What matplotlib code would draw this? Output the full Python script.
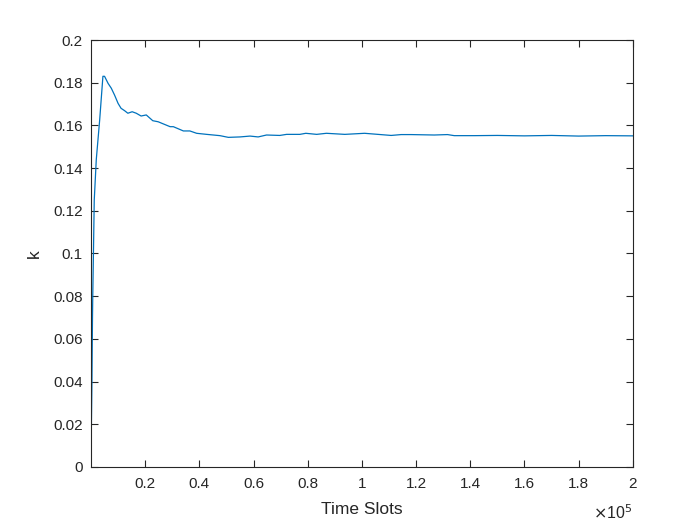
import numpy as np
import matplotlib
matplotlib.use("Agg")
import matplotlib.pyplot as plt

plt.rcParams['font.family'] = ['Liberation Sans', 'DejaVu Sans']

# data (time slot, k)
slots = [0, 150, 350, 550, 650, 900, 1200, 1950, 3200, 4400, 5000, 6300,
         7500, 8700, 10000, 11100, 12400, 13600, 15200, 16700, 18500, 20400,
         22800, 24800, 26700, 29200, 30400, 34100, 36500, 39000, 42700,
         47600, 50700, 55000, 58700, 61700, 64800, 69700, 72200, 77100,
         79300, 83300, 86900, 93700, 101000, 110800, 114500, 118200, 126700,
         131600, 134100, 141500, 150000, 160000, 170000, 180000, 190000,
         200000]
k = [0.0, 0.02, 0.04, 0.07, 0.08, 0.1, 0.125, 0.144, 0.1625, 0.183, 0.183,
     0.1797, 0.1774, 0.1742, 0.1703, 0.168, 0.1669, 0.1657, 0.1664, 0.1657,
     0.1644, 0.1649, 0.1622, 0.1617, 0.1607, 0.1594, 0.1594, 0.1574, 0.1574,
     0.1563, 0.1558, 0.1552, 0.1544, 0.1546, 0.155, 0.1546, 0.1555, 0.1553,
     0.1558, 0.1558, 0.1563, 0.1558, 0.1563, 0.1558, 0.1563, 0.1553, 0.1557,
     0.1557, 0.1555, 0.1557, 0.1552, 0.1552, 0.1553, 0.1551, 0.1553, 0.155,
     0.1552, 0.1551]

xticks = [0.2, 0.4, 0.6, 0.8, 1, 1.2, 1.4, 1.6, 1.8, 2]
xtick_labels = ['0.2', '0.4', '0.6', '0.8', '1', '1.2', '1.4', '1.6', '1.8', '2']
yticks = [0, 0.02, 0.04, 0.06, 0.08, 0.1, 0.12, 0.14, 0.16, 0.18, 0.2]
ytick_labels = ['0', '0.02', '0.04', '0.06', '0.08', '0.1', '0.12', '0.14',
                '0.16', '0.18', '0.2']

fig = plt.figure(figsize=(7, 5.25), dpi=100)
ax = fig.add_axes([0.13, 0.1105, 0.774, 0.8133])

ax.plot(slots, k, color='#0072BD', lw=0.9)

ax.set_xlim(1, 2e5)
ax.set_ylim(0, 0.2)
ax.set_xticks(np.array(xticks) * 1e5)
ax.set_xticklabels(xtick_labels)
ax.set_yticks(yticks)
ax.set_yticklabels(ytick_labels)

axcol = '#262626'
for s in ax.spines.values():
    s.set_color(axcol)
    s.set_linewidth(0.8)
ax.tick_params(direction='in', top=True, right=True, length=5, width=0.8,
               colors=axcol, labelsize=11)
ax.tick_params(axis='x', pad=7)
ax.tick_params(axis='y', pad=6)

ax.set_xlabel('Time Slots', fontsize=12.5, color=axcol, labelpad=8)
ax.set_ylabel('k', fontsize=12.5, color=axcol, labelpad=8)
ax.text(1.0, -0.1066, r'$\times$10$^{5}$', transform=ax.transAxes,
        ha='right', va='center', fontsize=11.5, color=axcol)

fig.savefig('out.png', dpi=100)
